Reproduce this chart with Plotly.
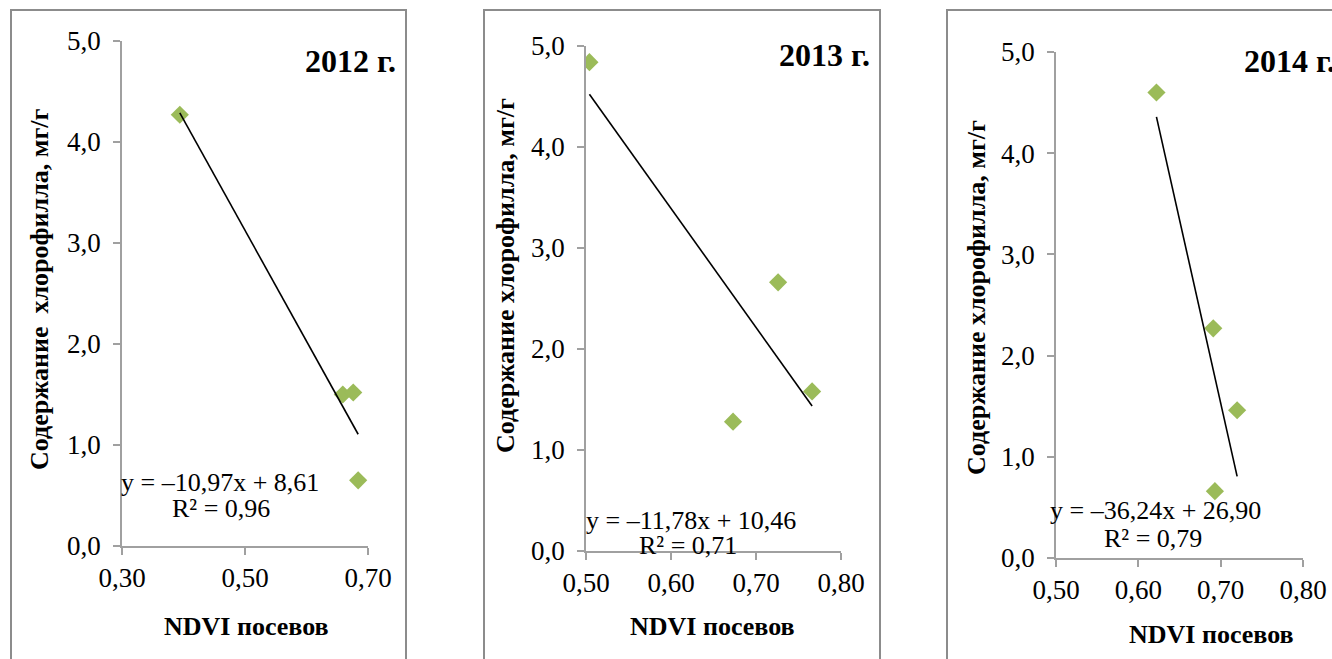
import plotly.graph_objects as go

W, H = 1332, 659
OFF = 0  # body margin removed below via post_script

# ---------------- data ----------------
years = ["2012 г.", "2013 г.", "2014 г."]
ndvi_2012 = [0.394, 0.659, 0.676, 0.684]
chl_2012 = [4.27, 1.50, 1.52, 0.65]
ndvi_2013 = [0.504, 0.673, 0.726, 0.766]
chl_2013 = [4.84, 1.28, 2.66, 1.58]
ndvi_2014 = [0.622, 0.691, 0.720, 0.693]
chl_2014 = [4.60, 2.27, 1.46, 0.66]
slopes = [-10.97, -11.78, -36.24]
intercepts = [8.61, 10.46, 26.90]
r2_values = [0.96, 0.71, 0.79]
x_ranges = [[0.30, 0.70], [0.50, 0.80], [0.50, 0.80]]
x_dticks = [0.2, 0.1, 0.1]
y_range = [0, 5]
y_title_texts = ["Содержание  хлорофилла, мг/г", "Содержание хлорофилла, мг/г", "Содержание хлорофилла, мг/г"]
x_title_text = "NDVI посевов"

ndvi = [ndvi_2012, ndvi_2013, ndvi_2014]
chl = [chl_2012, chl_2013, chl_2014]

# ---------------- layout (pixel positions) ----------------
panels = [
    dict(ax=(122, 368), ay=(546, 41), box=(11, 406), title=(398, 61, "right"),
         eq=(220, 482), r2=(221, 508), ytitle=(40, 290), xtitle=(246, 626)),
    dict(ax=(586, 841), ay=(551, 46), box=(484, 880), title=(872, 55, "right"),
         eq=(691, 520), r2=(688, 545), ytitle=(505, 275), xtitle=(712, 626)),
    dict(ax=(1056, 1303), ay=(558, 52), box=(947, 1345), title=(1242, 61, "left"),
         eq=(1155, 510), r2=(1153, 538), ytitle=(977, 298), xtitle=(1211, 634)),
]

FONT = "Liberation Serif"
AXC = "#a0a0a0"
GREEN = "#9BBB59"

def px(x):
    return (x - OFF) / W

def py(y):
    return 1 - (y - OFF) / H

def num(v, d=2):
    return f"{v:.{d}f}".replace(".", ",")

fig = go.Figure()
annotations = []
shapes = []
layout_axes = {}

for i, p in enumerate(panels):
    k = "" if i == 0 else str(i + 1)
    xa, ya = "x" + k, "y" + k
    xs, ys = ndvi[i], chl[i]
    fig.add_trace(go.Scatter(x=xs, y=ys, mode="markers", xaxis=xa, yaxis=ya,
                             marker=dict(symbol="diamond", size=14, color=GREEN),
                             showlegend=False, hoverinfo="x+y"))
    x0, x1 = min(xs), max(xs)
    fig.add_trace(go.Scatter(x=[x0, x1],
                             y=[slopes[i] * x0 + intercepts[i], slopes[i] * x1 + intercepts[i]],
                             mode="lines", xaxis=xa, yaxis=ya,
                             line=dict(color="black", width=1.6),
                             showlegend=False, hoverinfo="skip"))
    common = dict(showline=True, linecolor=AXC, linewidth=1.6, ticks="outside",
                  tickcolor=AXC, ticklen=7, tickwidth=1.5, showgrid=False, zeroline=False,
                  automargin=False,
                  tickfont=dict(family=FONT, size=27, color="black"), fixedrange=True)
    layout_axes["xaxis" + k] = dict(common, domain=[px(p["ax"][0]), px(p["ax"][1])],
                                     range=x_ranges[i], dtick=x_dticks[i], tick0=x_ranges[i][0],
                                     tickformat=".2f", anchor=ya, ticklabelstandoff=0)
    layout_axes["yaxis" + k] = dict(common, domain=[py(p["ay"][0]), py(p["ay"][1])],
                                     range=y_range, dtick=1, tickformat=".1f", anchor=xa,
                                     ticklabelstandoff=7)
    # panel border
    shapes.append(dict(type="rect", xref="paper", yref="paper",
                       x0=px(p["box"][0]), x1=px(p["box"][1]), y0=py(10), y1=py(700),
                       line=dict(color="#8c8c8c", width=2), fillcolor="rgba(0,0,0,0)", layer="below"))
    tx, ty, anc = p["title"]
    annotations.append(dict(text=f"<b>{years[i]}</b>", x=px(tx), y=py(ty), xref="paper", yref="paper",
                            xanchor=anc, yanchor="middle", showarrow=False,
                            font=dict(family=FONT, size=32, color="black")))
    eq = f"y = –{num(abs(slopes[i]))}x + {num(intercepts[i])}"
    annotations.append(dict(text=eq, x=px(p["eq"][0]), y=py(p["eq"][1]), xref="paper", yref="paper",
                            xanchor="center", yanchor="middle", showarrow=False,
                            font=dict(family=FONT, size=26, color="black")))
    annotations.append(dict(text=f"R² = {num(r2_values[i])}", x=px(p["r2"][0]), y=py(p["r2"][1]),
                            xref="paper", yref="paper", xanchor="center", yanchor="middle",
                            showarrow=False, font=dict(family=FONT, size=26, color="black")))
    annotations.append(dict(text=f"<b>{y_title_texts[i]}</b>", x=px(p["ytitle"][0]), y=py(p["ytitle"][1]),
                            xref="paper", yref="paper", xanchor="center", yanchor="middle",
                            textangle=-90, showarrow=False,
                            font=dict(family=FONT, size=26, color="black")))
    annotations.append(dict(text=f"<b>{x_title_text}</b>", x=px(p["xtitle"][0]), y=py(p["xtitle"][1]),
                            xref="paper", yref="paper", xanchor="center", yanchor="middle",
                            showarrow=False, font=dict(family=FONT, size=26, color="black")))

fig.update_layout(template="none", width=W, height=H, autosize=False,
                  margin=dict(l=0, r=0, t=0, b=0, pad=0, autoexpand=False),
                  paper_bgcolor="white", plot_bgcolor="white",
                  separators=", ", annotations=annotations, shapes=shapes,
                  showlegend=False, **layout_axes)

fig.write_html("out.html", config={"displayModeBar": False},
               post_script="document.body.style.margin='0';document.body.style.overflow='hidden';")
